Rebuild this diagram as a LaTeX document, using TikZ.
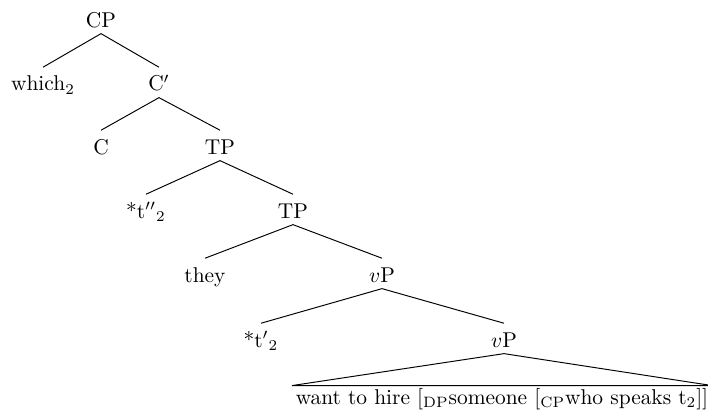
\documentclass[tikz,border=0pt]{standalone}
\tikzset{
  lbl/.style={inner xsep=1pt, inner ysep=2.9pt, text height=8pt, text depth=0pt, anchor=base},
  leafbox/.style={inner xsep=1.6pt, inner ysep=0.9pt, text height=7.5pt, text depth=2.5pt, anchor=base},
  branch/.style={line width=0.45pt}
}
\begin{document}
\begin{tikzpicture}[x=0.467pt,y=-0.467pt]
\useasboundingbox (0,0) rectangle (708,419);
\node[lbl] (cp) at (101,27) {CP};
\node[lbl] (which) at (43,91) {which$_2$};
\node[lbl] (cbar) at (159,91) {C$'$};
\node[lbl] (c) at (101,154) {C};
\node[lbl] (tp1) at (220,154) {TP};
\node[lbl] (t2) at (146,218) {*t$''$$_2$};
\node[lbl] (tp2) at (293,218) {TP};
\node[lbl] (they) at (205,282) {they};
\node[lbl] (vp1) at (382,282) {$v$P};
\node[lbl] (t1) at (261,347) {*t$'$$_2$};
\node[lbl] (vp2) at (504,347) {$v$P};
\node[leafbox] (base) at (502,404) {want to hire $[_{\mathrm{DP}}$someone $[_{\mathrm{CP}}$who speaks t$_2$]]};
\draw[branch] (which.north) -- (cp.south) -- (cbar.north);
\draw[branch] (c.north) -- (cbar.south) -- (tp1.north);
\draw[branch] (t2.north) -- (tp1.south) -- (tp2.north);
\draw[branch] (they.north) -- (tp2.south) -- (vp1.north);
\draw[branch] (t1.north) -- (vp1.south) -- (vp2.north);
\draw[branch] (vp2.south) -- (base.north west) -- (base.north east) -- cycle;
\end{tikzpicture}
\end{document}
